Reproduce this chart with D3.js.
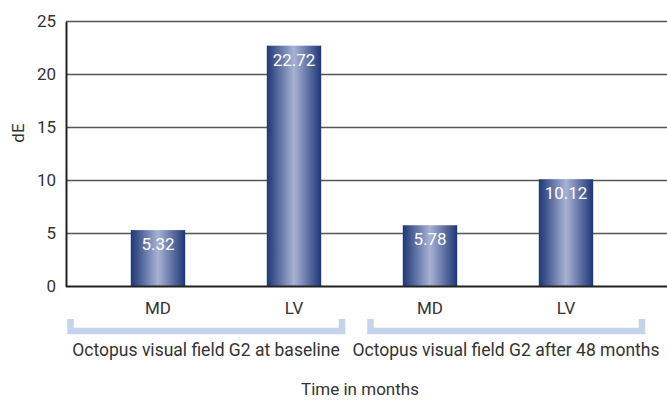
<!DOCTYPE html>
<meta charset="utf-8">
<style>
  body { margin: 0; background: #fff; }
  text { font-family: Roboto, 'Liberation Sans', sans-serif; fill: #333; }
</style>
<script src="https://d3js.org/d3.v7.min.js"></script>
<div id="chart"></div>
<script>

// data
var groups = ["Octopus visual field G2 at baseline", "Octopus visual field G2 after 48 months"];
var categories = ["MD", "LV", "MD", "LV"];
var groupOf = [0, 0, 1, 1];
var values = [5.32, 22.72, 5.78, 10.12];
var yTicks = [0, 5, 10, 15, 20, 25];

var width = 667, height = 400;

var svg = d3.select("#chart")
  .append("svg")
    .attr("width", width)
    .attr("height", height);

// bar gradient: dark navy edges, pale centre
var grad = svg.append("defs").append("linearGradient")
    .attr("id", "barGrad")
    .attr("x1", "0%").attr("x2", "100%")
    .attr("y1", "0%").attr("y2", "0%");
grad.append("stop").attr("offset", "0%").attr("stop-color", "#1d3676");
grad.append("stop").attr("offset", "50%").attr("stop-color", "#a9b2d4");
grad.append("stop").attr("offset", "100%").attr("stop-color", "#1d3676");

var x = d3.scaleBand()
  .domain(d3.range(values.length))
  .range([90, 634])
  .paddingInner(0.6)
  .paddingOuter(0.3);

var y = d3.scaleLinear()
  .domain([0, 25])
  .range([286.5, 21.5]);

var gx = d3.scaleBand()
  .domain(d3.range(groups.length))
  .range([67, 645])
  .paddingInner(0.0733);

// gridlines
svg.append("g")
  .selectAll("line")
  .data(yTicks.filter(function(d) { return d > 0; }))
  .enter()
  .append("line")
    .attr("x1", 66)
    .attr("x2", width)
    .attr("y1", function(d) { return y(d); })
    .attr("y2", function(d) { return y(d); })
    .attr("stroke", "#555")
    .attr("stroke-width", 1.3);

// y axis
var yAxis = svg.append("g")
  .attr("transform", "translate(66,0)")
  .call(d3.axisLeft(y).tickValues(yTicks).tickSize(0).tickPadding(10));
yAxis.select(".domain").attr("stroke", "#222").attr("stroke-width", 2);
yAxis.selectAll("text")
  .style("font-family", "Roboto, 'Liberation Sans', sans-serif")
  .style("font-size", "17px")
  .attr("fill", "#333");

// bars
svg.append("g")
  .selectAll("rect")
  .data(values)
  .enter()
  .append("rect")
    .attr("x", function(d, i) { return x(i); })
    .attr("y", function(d) { return y(d); })
    .attr("width", x.bandwidth())
    .attr("height", function(d) { return y(0) - y(d); })
    .attr("fill", "url(#barGrad)");

// value labels
svg.append("g")
  .selectAll("text")
  .data(values)
  .enter()
  .append("text")
    .attr("x", function(d, i) { return x(i) + x.bandwidth() / 2; })
    .attr("y", function(d) { return y(d) + 20; })
    .attr("text-anchor", "middle")
    .style("font-size", "17px")
    .style("fill", "#fff")
    .text(function(d) { return d.toFixed(2); });

// baseline
svg.append("line")
  .attr("x1", 66).attr("x2", width)
  .attr("y1", y(0)).attr("y2", y(0))
  .attr("stroke", "#222")
  .attr("stroke-width", 2);

// category labels
svg.append("g")
  .selectAll("text")
  .data(categories)
  .enter()
  .append("text")
    .attr("x", function(d, i) { return x(i) + x.bandwidth() / 2; })
    .attr("y", 314)
    .attr("text-anchor", "middle")
    .style("font-size", "17px")
    .text(function(d) { return d; });

// brackets under each group
svg.append("g")
  .selectAll("path")
  .data(groups)
  .enter()
  .append("path")
    .attr("d", function(d, i) {
      var x0 = gx(i) + 3.5, x1 = gx(i) + gx.bandwidth() - 3;
      return "M" + x0 + ",319V331H" + x1 + "V319";
    })
    .attr("fill", "none")
    .attr("stroke", "#c6d3ec")
    .attr("stroke-width", 6.5)
    .attr("stroke-linejoin", "miter");

// group labels
svg.append("g")
  .selectAll("text")
  .data(groups)
  .enter()
  .append("text")
    .attr("x", function(d, i) { return gx(i) + gx.bandwidth() / 2; })
    .attr("y", 356)
    .attr("text-anchor", "middle")
    .style("font-size", "17.5px")
    .text(function(d) { return d; });

svg.append("text")
  .attr("x", 360)
  .attr("y", 395)
  .attr("text-anchor", "middle")
  .style("font-size", "17px")
  .text("Time in months");

svg.append("text")
  .attr("transform", "translate(24,133)rotate(-90)")
  .attr("text-anchor", "middle")
  .style("font-size", "17px")
  .text("dE");

</script>
